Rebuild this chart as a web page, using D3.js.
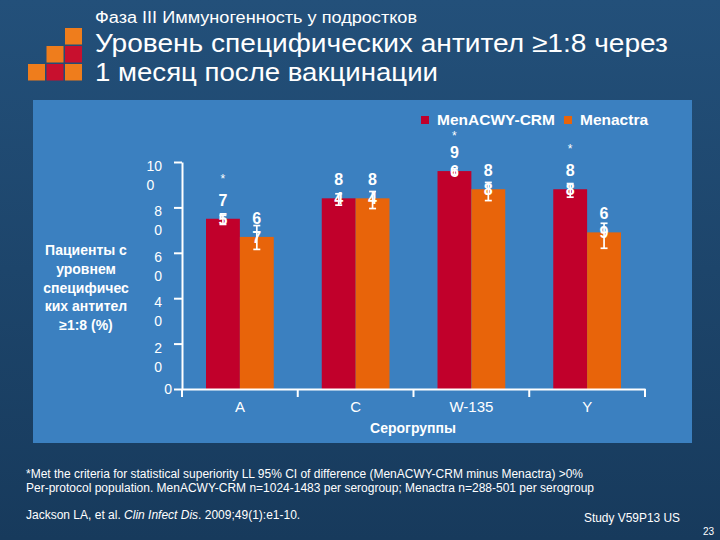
<!DOCTYPE html>
<html>
<head>
<meta charset="utf-8">
<script src="https://cdn.jsdelivr.net/npm/d3@7"></script>
<style>
  html, body { margin: 0; padding: 0; background: #1c4266; }
  svg { display: block; }
  text { font-family: "Liberation Sans", Arial, sans-serif; fill: #ffffff; }
</style>
</head>
<body>
<script>
// ---- data ----
const categories = ["A", "C", "W-135", "Y"];
const seriesNames = ["MenACWY-CRM", "Menactra"];
const menacwyValues = [75, 84, 96, 88];
const menactraValues = [67, 84, 88, 69];
const menacwyLow = [72.5, 81, 94.5, 84.5];
const menacwyHigh = [76.5, 86, 97, 90.5];
const menactraLow = [61.5, 79.5, 83, 62];
const menactraHigh = [72, 87, 91, 73];
const superiority = [true, false, true, true];
const yTicks = [0, 20, 40, 60, 80, 100];
const yTickLabels = ["0", "20", "40", "60", "80", "100"];

const titleSmall = "Фаза III Иммуногенность у подростков";
const titleLines = ["Уровень специфических антител ≥1:8 через", "1 месяц после вакцинации"];
const yTitleLines = ["Пациенты с", "уровнем", "специфичес", "ких антител", "≥1:8 (%)"];
const xTitle = "Серогруппы";
const footLines = [
  "*Met the criteria for statistical superiority LL 95% CI of difference (MenACWY-CRM minus Menactra) >0%",
  "Per-protocol population. MenACWY-CRM n=1024-1483 per serogroup; Menactra n=288-501 per serogroup"
];

const colors = { "MenACWY-CRM": "#c1002b", "Menactra": "#e8640a" };

const rows = categories.map((c, i) => ({
  cat: c,
  bars: [
    { s: "MenACWY-CRM", v: menacwyValues[i], lo: menacwyLow[i], hi: menacwyHigh[i], star: superiority[i] },
    { s: "Menactra", v: menactraValues[i], lo: menactraLow[i], hi: menactraHigh[i], star: false }
  ]
}));

const W = 720, H = 540;
const svg = d3.select("body").append("svg").attr("width", W).attr("height", H);

const defs = svg.append("defs");
const bg = defs.append("linearGradient").attr("id", "bg").attr("x1", 0).attr("y1", 0).attr("x2", 0).attr("y2", 1);
bg.append("stop").attr("offset", "0%").attr("stop-color", "#23507a");
bg.append("stop").attr("offset", "100%").attr("stop-color", "#173a5c");
svg.append("rect").attr("width", W).attr("height", H).attr("fill", "url(#bg)");

// logo squares
const logoCells = [
  [2, 0, "#ef7d1c"],
  [1, 1, "#ef7d1c"], [2, 1, "#c8102e"],
  [0, 2, "#ef7d1c"], [1, 2, "#c8102e"], [2, 2, "#ef7d1c"]
];
svg.append("g").selectAll("rect").data(logoCells).join("rect")
  .attr("x", d => 28 + d[0] * 18.5).attr("y", d => 28 + d[1] * 18)
  .attr("width", 17).attr("height", 16.5).attr("fill", d => d[2]);

// titles
svg.append("text").attr("x", 95).attr("y", 23).attr("font-size", 16)
  .attr("textLength", 322).attr("lengthAdjust", "spacingAndGlyphs").text(titleSmall);
svg.append("text").attr("x", 95).attr("y", 52).attr("font-size", 26)
  .attr("textLength", 573).attr("lengthAdjust", "spacingAndGlyphs").text(titleLines[0]);
svg.append("text").attr("x", 95).attr("y", 81).attr("font-size", 26)
  .attr("textLength", 343).attr("lengthAdjust", "spacingAndGlyphs").text(titleLines[1]);

// panel
svg.append("rect").attr("x", 33).attr("y", 100).attr("width", 659).attr("height", 343).attr("fill", "#3b80c0");

// scales
const x0 = d3.scaleBand().domain(categories).range([182, 645]).padding(0);
const groupPad = 24;
const x1 = d3.scaleBand().domain(seriesNames).range([groupPad, x0.bandwidth() - groupPad]).padding(0);
const y = d3.scaleLinear().domain([0, 100]).range([389, 162]);

// bars
const groups = svg.append("g").selectAll("g").data(rows).join("g")
  .attr("transform", d => `translate(${x0(d.cat)},0)`);
groups.selectAll("rect").data(d => d.bars).join("rect")
  .attr("x", d => x1(d.s)).attr("y", d => y(d.v))
  .attr("width", x1.bandwidth()).attr("height", d => y(0) - y(d.v))
  .attr("fill", d => colors[d.s]);

// error bars
const cx = d => x1(d.s) + x1.bandwidth() / 2;
const eb = groups.selectAll("g.eb").data(d => d.bars).join("g").attr("class", "eb")
  .attr("stroke", "#ffffff").attr("stroke-width", 1.7);
eb.append("line").attr("x1", cx).attr("x2", cx).attr("y1", d => y(d.hi)).attr("y2", d => y(d.lo));
eb.append("line").attr("x1", d => cx(d) - 3.5).attr("x2", d => cx(d) + 3.5)
  .attr("y1", d => y(d.hi)).attr("y2", d => y(d.hi));
eb.append("line").attr("x1", d => cx(d) - 3.5).attr("x2", d => cx(d) + 3.5)
  .attr("y1", d => y(d.lo)).attr("y2", d => y(d.lo));

// value labels (wrapped digits)
const vl = groups.selectAll("text.vl").data(d => d.bars).join("text").attr("class", "vl")
  .attr("text-anchor", "middle").attr("font-size", 16).attr("font-weight", "bold");
vl.append("tspan").attr("x", cx).attr("y", d => y(d.v) - 13)
  .text(d => String(d.v).slice(0, -1));
vl.append("tspan").attr("x", cx).attr("y", d => y(d.v) + 6)
  .text(d => String(d.v).slice(-1));

// asterisks
groups.selectAll("text.star").data(d => d.bars.filter(b => b.star)).join("text").attr("class", "star")
  .attr("text-anchor", "middle").attr("font-size", 12)
  .attr("x", cx)
  .attr("y", d => Math.min(Math.max(y(d.v) - 36, 145), y(d.v) - 31))
  .text("*");

// y axis
const yAxis = svg.append("g").attr("transform", "translate(182,0)")
  .call(d3.axisLeft(y).tickValues(yTicks).tickSize(8).tickSizeOuter(0).tickFormat(""));
yAxis.select(".domain").attr("stroke", "#fff").attr("stroke-width", 2);
yAxis.selectAll(".tick line").attr("stroke", "#fff").attr("stroke-width", 2);

const yl = svg.append("g").selectAll("text").data(yTicks).join("text")
  .attr("font-size", 14);
yl.each(function (t, i) {
  const lab = yTickLabels[i];
  const sel = d3.select(this);
  if (lab.length === 1) {
    sel.append("tspan").attr("x", 172).attr("y", y(t) + 5).attr("text-anchor", "end").text(lab);
  } else {
    const first = lab.slice(0, -1), last = lab.slice(-1);
    const t1 = sel.append("tspan").attr("x", 162).attr("y", y(t) + 9).attr("text-anchor", "end").text(first);
    const w = t1.node().getComputedTextLength();
    sel.append("tspan").attr("x", 162 - w).attr("y", y(t) + 28).attr("text-anchor", "start").text(last);
  }
});

// x axis
const xAxis = svg.append("g").attr("transform", "translate(0,389)")
  .call(d3.axisBottom(x0).tickSize(0).tickSizeOuter(0).tickPadding(12));
xAxis.select(".domain").attr("stroke", "#fff").attr("stroke-width", 2);
xAxis.selectAll(".tick text").attr("font-size", 15).attr("fill", "#fff")
  .attr("font-family", "Liberation Sans, Arial, sans-serif");
const bounds = categories.map(c => x0(c)).concat([x0.range()[1]]);
svg.append("g").selectAll("line").data(bounds).join("line")
  .attr("x1", d => d).attr("x2", d => d).attr("y1", 389).attr("y2", 397)
  .attr("stroke", "#fff").attr("stroke-width", 2);

// axis titles
svg.append("text").attr("x", 413).attr("y", 433).attr("text-anchor", "middle")
  .attr("font-size", 14).attr("font-weight", "bold").text(xTitle);
svg.append("g").selectAll("text").data(yTitleLines).join("text")
  .attr("x", 86).attr("y", (d, i) => 255 + i * 18.8).attr("text-anchor", "middle")
  .attr("font-size", 14).attr("font-weight", "bold").text(d => d);

// legend
const lg = svg.append("g").selectAll("g").data(seriesNames).join("g")
  .attr("transform", (d, i) => `translate(${i === 0 ? 421 : 564},116)`);
lg.append("rect").attr("width", 8).attr("height", 8).attr("fill", d => colors[d]);
lg.append("text").attr("x", 16).attr("y", 9).attr("font-size", 15.5).attr("font-weight", "bold").text(d => d);

// footnotes
svg.append("text").attr("x", 26).attr("y", 478).attr("font-size", 12)
  .attr("textLength", 557).attr("lengthAdjust", "spacingAndGlyphs").text(footLines[0]);
svg.append("text").attr("x", 26).attr("y", 492).attr("font-size", 12)
  .attr("textLength", 568).attr("lengthAdjust", "spacingAndGlyphs").text(footLines[1]);
const ref = svg.append("text").attr("x", 26).attr("y", 519).attr("font-size", 12);
ref.append("tspan").text("Jackson LA, et al. ");
ref.append("tspan").attr("font-style", "italic").text("Clin Infect Dis");
ref.append("tspan").text(". 2009;49(1):e1-10.");
svg.append("text").attr("x", 584).attr("y", 522).attr("font-size", 13)
  .attr("textLength", 96).attr("lengthAdjust", "spacingAndGlyphs").text("Study V59P13 US");
svg.append("text").attr("x", 714).attr("y", 535).attr("font-size", 10).attr("text-anchor", "end").text("23");
</script>
</body>
</html>
